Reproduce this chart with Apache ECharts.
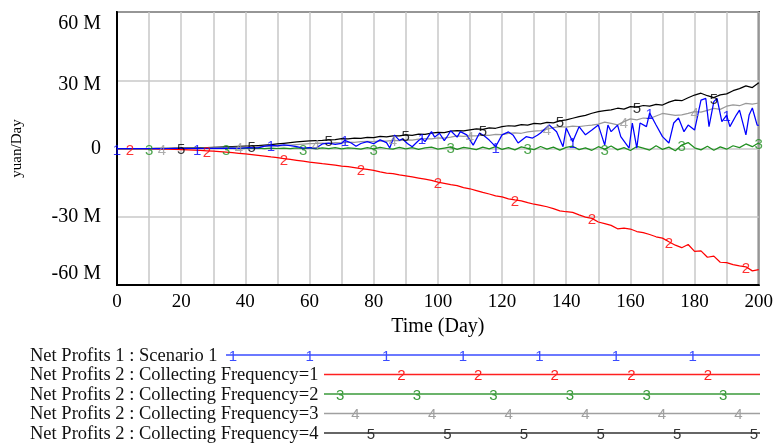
<!DOCTYPE html>
<html><head><meta charset="utf-8">
<script src="https://cdn.jsdelivr.net/npm/echarts@6/dist/echarts.min.js"></script>
<style>html,body{margin:0;padding:0;background:#fff}#c{width:776px;height:443px}</style>
</head><body><div id="c"></div>
<script>
// ---- data (values in millions of yuan/Day) ----
const stepDays = Array.from({length: 101}, (_, i) => i * 2); // sampling days 0..200
const xTicks = [0, 20, 40, 60, 80, 100, 120, 140, 160, 180, 200];
const yTicks = [-60, -30, 0, 30, 60];

const scenario1Days = [0,5,10,15,20,25,30,35,38,41,44,46,48,50,52,54,56,58,60,62,64,66,68,70,71,73,74.5,76,78,80,82,84,85,86.5,88,89,90.5,92,94,95,96,98,99,100.5,102,103,104,106,107,109,111,113,114.5,116,118,120,122,123.5,125,127.5,129.5,131,132,134.7,137,139,140,142,144,146,148,150,152,153,154,156,157,159.6,160.6,162,163,165,166,168,170,172,173.5,175,176.7,178,180,181,182,183.5,184.5,186,187,188.5,190,191,193,194,196,197,198,199.5,200];
const scenario1 = [0,0,0,0,0.05,0,0.1,0.2,0.1,0.4,0.3,1.0,1.4,1.2,1.6,1.3,0.8,0.2,0.4,0.2,2.0,2.4,1.8,2.3,3.6,2.4,1.0,2.2,3.0,2.1,3.8,2.6,0.2,5.9,3.6,4.2,2.2,0.8,3.5,4.5,3.0,7.4,5.0,6.7,3.5,5.5,7.8,5.0,7.4,6.0,1.5,6.8,5.5,3.7,0.8,6.0,7.3,5.8,2.4,5.2,4.6,5.8,6.8,10.3,7.4,0.8,9.0,3.0,9.6,6.0,8.1,10.3,1.5,10.3,7.4,10.3,5.2,0.2,11.2,0.2,11.2,9.6,15.6,10.3,5.2,2.4,11.2,13.4,7.4,10.3,8.1,14.7,21.3,22.0,9.6,20.6,22.0,11.8,14.7,9.6,14.7,16.9,6.0,14.7,17.8,10.3,10.2];

const freq1 = [0,0,0,-0.05,-0.1,-0.15,-0.2,-0.25,-0.3,-0.4,
-0.5,-0.6,-0.7,-0.85,-1.0,-1.15,-1.35,-1.55,-1.8,-2.1,
-2.4,-2.7,-3.0,-3.3,-3.7,-4.0,-4.4,-4.8,-5.2,-5.6,
-6.0,-6.3,-6.7,-7.0,-7.3,-7.7,-8.0,-8.4,-8.8,-9.2,
-9.6,-10.3,-10.8,-11.0,-11.6,-12.0,-12.5,-13.0,-13.5,-14.0,
-14.8,-15.3,-15.9,-16.3,-17.2,-17.7,-18.5,-19.3,-20.0,-20.8,
-21.3,-22.1,-22.6,-23.0,-23.8,-24.5,-25.0,-25.6,-26.4,-27.4,
-27.8,-28.1,-29.2,-30.2,-30.7,-32.3,-33.0,-33.8,-35.3,-35.0,
-35.4,-36.5,-37.0,-37.8,-38.8,-39.4,-41.0,-42.5,-43.6,-42.2,
-45.2,-45.0,-47.8,-47.3,-50.0,-50.2,-51.0,-51.6,-52.0,-53.8,
-53.2];
const freq2 = [0,0,0,0,0,0,0,0,0,0,
0,0,0.05,0,0.05,0,0.1,0,0.1,-0.05,
0.1,0,0.15,-0.05,0.2,0,0.2,-0.1,0.25,-0.1,
0.3,-0.2,0.3,-0.1,0.4,-0.2,0.3,0.1,-0.3,0.4,
-0.2,0.5,0,-0.3,0.5,-0.2,0.4,-0.4,0.3,0.6,
-0.3,0.2,0.7,-0.4,0.5,0.1,-0.5,0.6,-0.2,0.8,
-0.4,0.4,-0.6,0.7,0.1,-0.5,0.9,-0.3,0.6,-0.7,
0.5,1.0,-0.5,0.3,-0.8,0.8,-0.3,1.1,-0.6,0.4,
-0.9,0.9,0.2,-0.7,1.2,-0.4,0.6,-1.0,1.5,2.6,
0.3,-0.6,1.0,-0.8,0.7,-0.3,1.2,0.4,2.0,0.8,
2.5];
const freq3 = [0,0,0,0,0,0,0,0.05,0.05,0.1,
0.1,0.15,0.2,0.2,0.25,0.3,0.35,0.4,0.5,0.55,
0.6,0.7,0.8,0.9,1.0,1.2,1.3,1.5,1.7,1.9,
2.1,2.2,2.4,2.3,2.6,2.5,2.8,2.7,3.0,3.1,
3.0,3.3,3.2,3.6,3.5,3.8,3.7,4.1,4.3,4.2,
4.7,4.6,5.0,5.5,5.3,5.6,5.5,5.9,5.8,6.2,
6.1,6.6,6.9,6.7,7.3,7.6,7.9,8.5,9.2,9.6,
9.4,9.8,9.6,10.0,10.3,10.7,11.6,11.0,10.4,11.8,
13.0,12.6,13.4,13.2,14.3,15.4,15.0,14.6,14.8,15.4,
16.2,16.0,16.8,17.6,17.2,18.6,19.2,18.8,19.8,19.5,
20.0];
const freq4 = [0,0,0,0,0,0,0.05,0.1,0.1,0.15,
0.2,0.25,0.3,0.35,0.4,0.5,0.6,0.7,0.8,0.9,
1.0,1.1,1.3,1.5,1.7,2.0,2.3,2.6,2.9,3.1,
3.3,3.5,3.6,3.8,3.9,4.3,4.2,4.6,4.5,4.9,
4.8,5.3,5.1,5.6,5.5,6.0,5.8,6.3,6.2,6.8,
7.1,7.0,7.6,7.9,7.7,8.2,8.6,8.4,9.1,8.9,
9.6,10.0,9.8,10.5,10.3,11.0,10.8,11.5,11.3,12.1,
12.6,13.3,14.0,14.6,15.5,16.2,16.6,17.0,17.7,17.3,
18.4,18.2,18.9,18.6,19.4,19.1,20.4,21.3,21.0,22.3,
23.5,24.3,23.2,22.4,23.6,24.0,25.4,26.3,27.5,26.8,
28.9];

const seriesNames = [
  'Net Profits 1 : Scenario 1',
  'Net Profits 2 : Collecting Frequency=1',
  'Net Profits 2 : Collecting Frequency=2',
  'Net Profits 2 : Collecting Frequency=3',
  'Net Profits 2 : Collecting Frequency=4'
];

// ---- styles ----
const colors = ['#0000ff', '#ff0000', '#1f8f1f', '#999999', '#000000'];
const legendColors = ['#3a4cff', '#ff2020', '#3a9a3a', '#a0a0a0', '#333333'];
const serif = 'Liberation Serif';
const sans = 'Liberation Sans';

const pairs = (xs, ys) => xs.map((x, i) => [x, ys[i]]);
const lineData = [
  pairs(scenario1Days, scenario1),
  pairs(stepDays, freq1),
  pairs(stepDays, freq2),
  pairs(stepDays, freq3),
  pairs(stepDays, freq4)
];

// marker digits placed along each line (Vensim style)
const markStep = 23.8, markOffset = 4.76;
function markerPoints(k) {
  const pts = [];
  const d = lineData[k];
  for (let t = k * markOffset; t <= 200.5; t += markStep) {
    let best = d[0];
    for (const p of d) if (Math.abs(p[0] - t) < Math.abs(best[0] - t)) best = p;
    pts.push(best);
  }
  return pts;
}

const series = [];
const drawOrder = [4, 3, 2, 1, 0];
drawOrder.forEach((k, i) => {
  series.push({
    type: 'line', name: seriesNames[k], data: lineData[k],
    showSymbol: false, symbol: 'none', z: 2 + i,
    lineStyle: {color: colors[k], width: 1.25},
    animation: false
  });
});
drawOrder.forEach((k, i) => {
  series.push({
    type: 'scatter', data: markerPoints(k), symbolSize: 1, z: 10 + i,
    itemStyle: {color: 'rgba(0,0,0,0)'},
    label: {show: true, position: 'inside', offset: [0, 2], formatter: String(k + 1),
      color: colors[k], fontFamily: sans, fontSize: 15},
    silent: true, animation: false
  });
});

// ---- legend (graphic) ----
const rowY = [355, 374.5, 394, 413.5, 433];
const lineStart = [226, 324, 324, 324, 324];
const graphics = [];
seriesNames.forEach((nm, k) => {
  graphics.push({type: 'text', x: 30, y: rowY[k] + 1,
    style: {text: nm, font: '18.5px "' + serif + '"', fill: '#111', verticalAlign: 'middle'}});
  graphics.push({type: 'line', shape: {x1: lineStart[k], y1: rowY[k], x2: 760, y2: rowY[k]},
    style: {stroke: legendColors[k], lineWidth: 1.6}});
  for (let x = 233 + 15.3 * k; x < 762; x += 76.6) {
    if (x < lineStart[k] + 4) continue;
    graphics.push({type: 'text', x: x, y: rowY[k] + 1.5,
      style: {text: String(k + 1), font: '15px "' + sans + '"', fill: legendColors[k],
        align: 'center', verticalAlign: 'middle'}});
  }
});

const yShift = {'60': 24, '30': 8, '0': 0, '-30': 0, '-60': -22};

const chart = echarts.init(document.getElementById('c'), null, {renderer: 'canvas'});
chart.setOption({
  animation: false,
  backgroundColor: '#fff',
  grid: {left: 117, right: 16, top: 12, bottom: 158, show: true,
    borderColor: '#000', borderWidth: 2, backgroundColor: 'transparent'},
  xAxis: {
    type: 'value', min: xTicks[0], max: xTicks[xTicks.length - 1], interval: 20,
    axisLine: {show: true, onZero: false, lineStyle: {color: '#000', width: 2}},
    axisTick: {show: false},
    minorTick: {show: false, splitNumber: 2},
    minorSplitLine: {show: true, lineStyle: {color: '#c8c8c8', width: 1.5}},
    splitLine: {show: true, lineStyle: {color: '#c8c8c8', width: 1.5}},
    axisLabel: {color: '#000', fontFamily: serif, fontSize: 19, margin: 8},
    name: 'Time (Day)', nameLocation: 'middle', nameGap: 32,
    nameTextStyle: {color: '#000', fontFamily: serif, fontSize: 20}
  },
  yAxis: {
    type: 'value', min: yTicks[0], max: yTicks[yTicks.length - 1], interval: 30,
    axisLine: {show: true, onZero: false, lineStyle: {color: '#000', width: 2}},
    axisTick: {show: false},
    splitLine: {show: true, lineStyle: {color: '#c8c8c8', width: 1.5}},
    axisLabel: {
      color: '#000', fontFamily: serif, fontSize: 20, margin: 16,
      formatter: v => {
        const s = v === 0 ? '0' : v + ' M';
        const sh = yShift[String(v)] || 0;
        if (sh > 0) return '{d' + sh + '|' + s + '}';
        if (sh < 0) return '{u' + (-sh) + '|' + s + '}';
        return s;
      },
      rich: {
        d24: {fontFamily: serif, fontSize: 20, color: '#000', padding: [24, 0, 0, 0]},
        d8: {fontFamily: serif, fontSize: 20, color: '#000', padding: [8, 0, 0, 0]},
        u22: {fontFamily: serif, fontSize: 20, color: '#000', padding: [0, 0, 22, 0]}
      }
    },
    name: 'yuan/Day', nameLocation: 'middle', nameGap: 92,
    nameTextStyle: {color: '#000', fontFamily: serif, fontSize: 15}
  },
  series: series,
  graphic: graphics
});
</script></body></html>
